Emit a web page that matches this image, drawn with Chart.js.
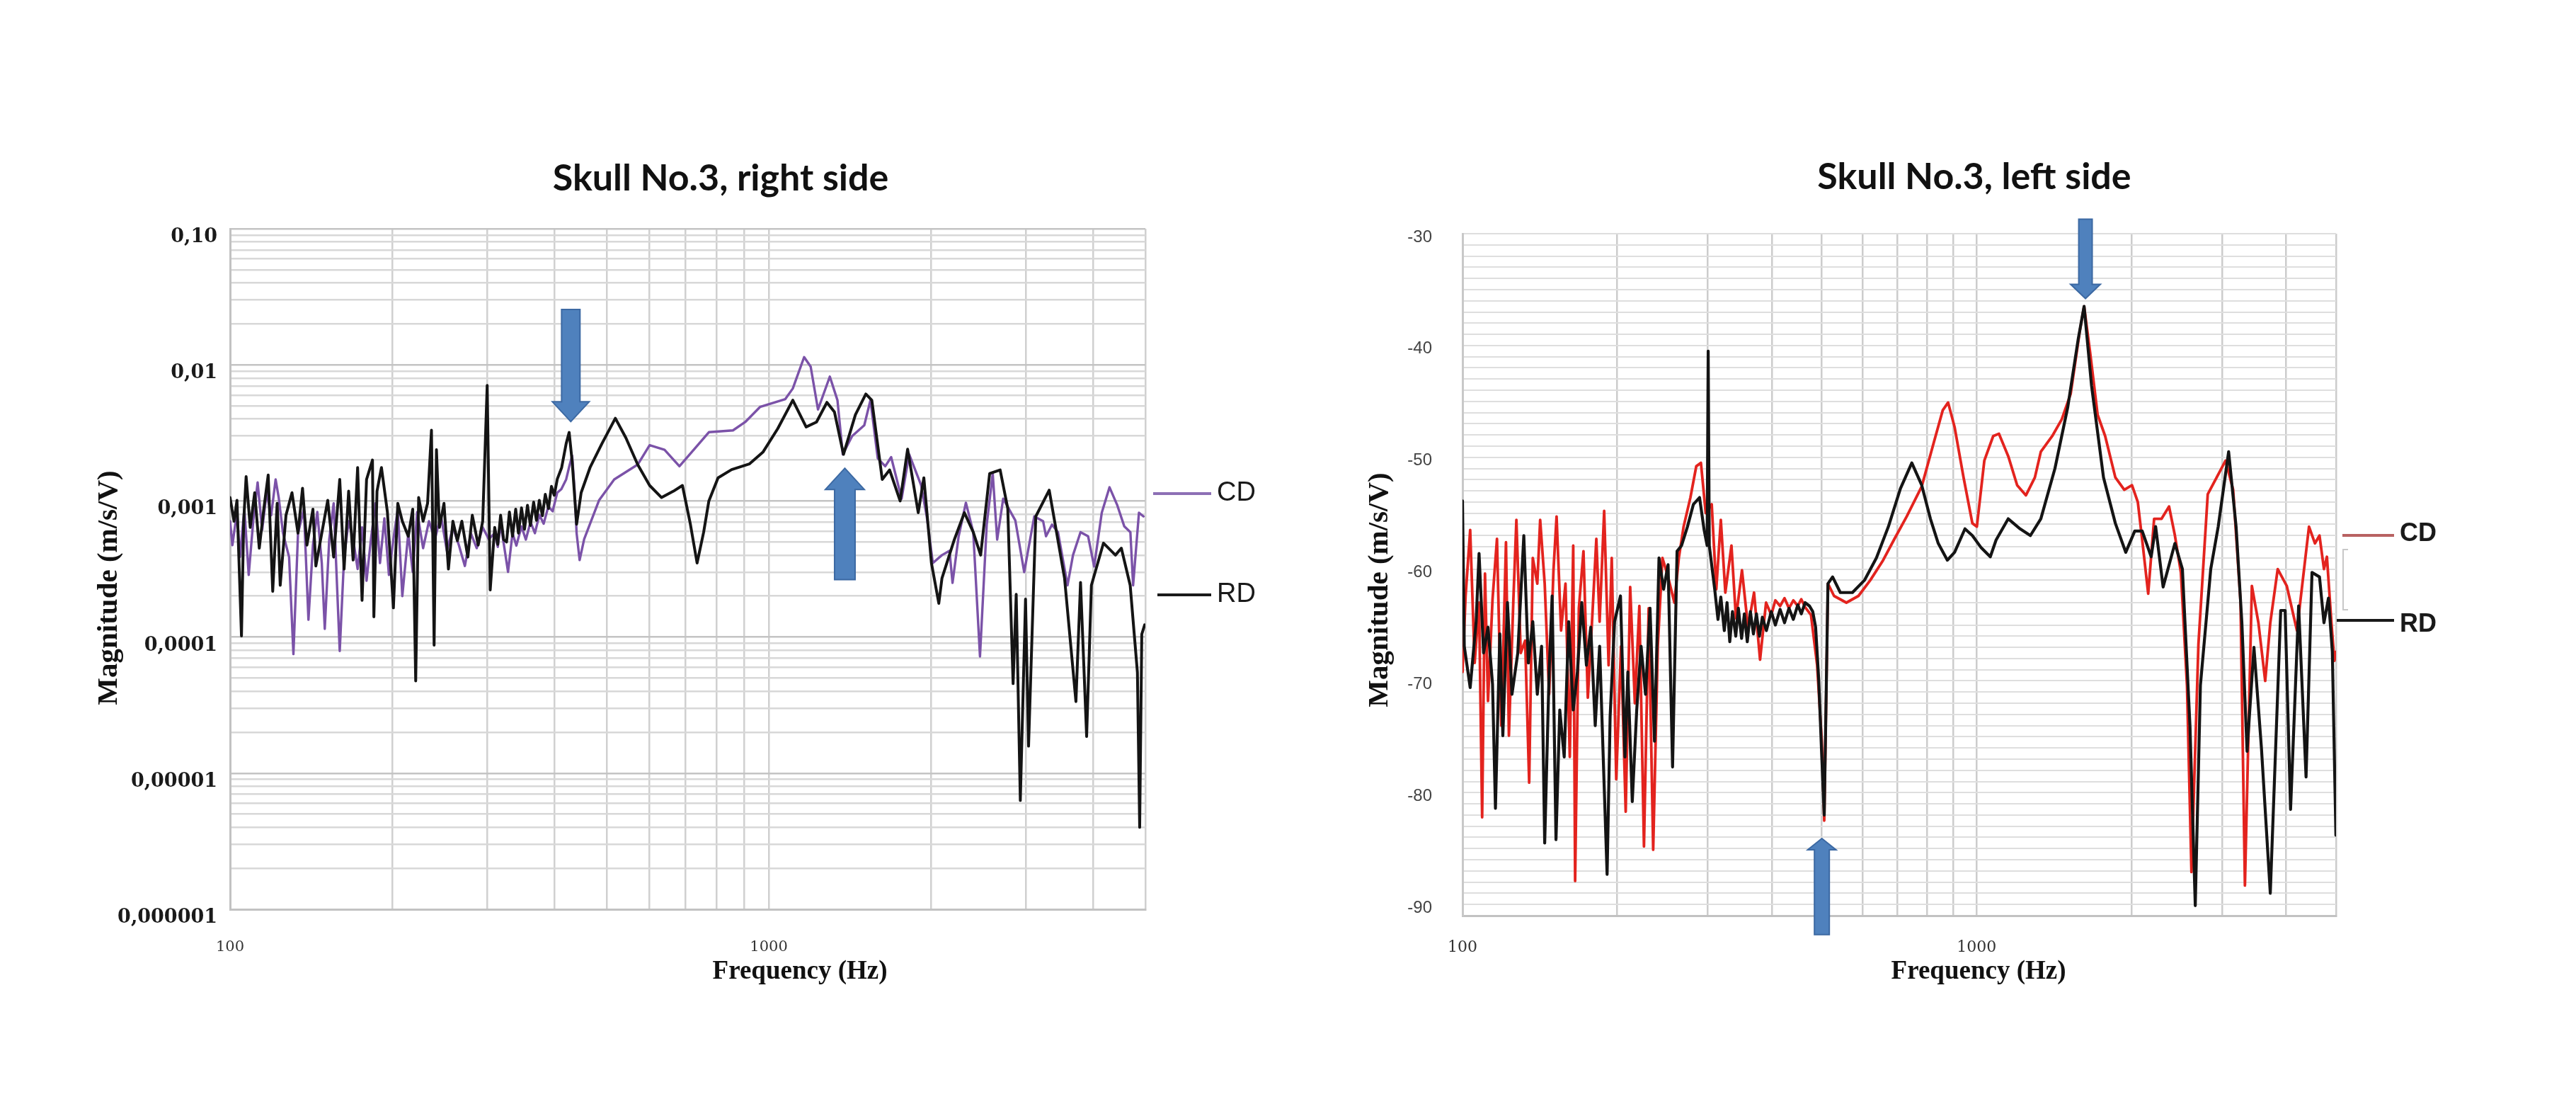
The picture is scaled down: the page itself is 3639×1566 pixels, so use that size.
<!DOCTYPE html>
<html lang="en">
<head>
<meta charset="UTF-8">
<title>Skull No.3 - frequency response, right and left side</title>
<script src="https://cdn.jsdelivr.net/npm/chart.js@4.4.1/dist/chart.umd.min.js"></script>
<style>
    html, body { margin: 0; padding: 0; background: #fff; }
    .panel { position: absolute; top: 0; }
    #rightSideChart { left: 0; }
    #leftSideChart { left: 1820px; }
</style>
</head>
<body>
<canvas id="rightSideChart" class="panel" width="1820" height="1566"></canvas>
<canvas id="leftSideChart" class="panel" width="1819" height="1566"></canvas>
<script>
// ---- axis ticks ----
const freqGrid = [100, 200, 300, 400, 500, 600, 700, 800, 900, 1000, 2000, 3000, 4000, 5000];
const freqLabelValues = [100, 1000];
const freqLabelTexts = ['100', '1000'];
const magnitudeDecades = [0.000001, 0.00001, 0.0001, 0.001, 0.01, 0.1];
const magnitudeLabels = ['0,000001', '0,00001', '0,0001', '0,001', '0,01', '0,10'];
const dbLabelValues = [-90, -80, -70, -60, -50, -40, -30];

// ---- Skull No.3, right side: [frequency Hz, magnitude m/s/V] ----
const rightSideRD = [[100,0.00106],[101.7,0.00071],[103,0.00101],[105,0.000102],[106,0.00071],[107.1,0.00151],[109,0.00064],[111.1,0.00115],[113.3,0.00045],[115.5,0.00087],[117.7,0.00155],[120,0.000217],[122.3,0.00096],[123.9,0.00024],[127,0.000785],[130.3,0.00115],[133.7,0.00058],[136.3,0.00124],[138.9,0.000474],[142.5,0.00087],[144.3,0.000333],[148,0.00058],[151.8,0.00101],[155.7,0.000387],[159.8,0.00144],[162.8,0.000316],[166,0.00118],[169.2,0.000368],[172.5,0.00176],[175.8,0.000186],[179.2,0.00144],[183.8,0.002],[184.9,0.000141],[187.4,0.00118],[191,0.00176],[195.9,0.00083],[201,0.000164],[204.8,0.00096],[208.8,0.00071],[214.2,0.00055],[218.3,0.00087],[221.1,0.0000476],[223.9,0.00106],[228.2,0.00071],[232.6,0.00096],[236.5,0.00331],[239.2,0.0000872],[241.6,0.00238],[244.7,0.00064],[249.5,0.00096],[254.3,0.000316],[259.2,0.00071],[264.2,0.000511],[269.3,0.00071],[276.3,0.000387],[281.6,0.000785],[288.8,0.000474],[294.4,0.00071],[300.1,0.00706],[304,0.000222],[309.9,0.00064],[314,0.00048],[317.8,0.000785],[322,0.00052],[326,0.0005],[330,0.00083],[334.4,0.00055],[339,0.00087],[343,0.00058],[347.5,0.00089],[352,0.00062],[356.5,0.00093],[361,0.00066],[366,0.00098],[370.4,0.00072],[375,0.00101],[380,0.00078],[384.7,0.00112],[390,0.00088],[395,0.00128],[399.7,0.0011],[405,0.00145],[412.6,0.00176],[420.6,0.00264],[426,0.00319],[431.5,0.00195],[439.8,0.000675],[448.4,0.00115],[465.8,0.00176],[490.1,0.00264],[519,0.00405],[542.7,0.00292],[571,0.00185],[600.9,0.0013],[632.3,0.00106],[665.3,0.00118],[691.3,0.0013],[715,0.00068],[736,0.00035],[757,0.00059],[774,0.001],[805,0.00148],[853,0.0017],[920,0.00187],[975,0.00228],[1039,0.0034],[1108,0.0055],[1173,0.0035],[1226,0.0038],[1282,0.0053],[1324,0.0045],[1376,0.0022],[1448,0.0043],[1514,0.0061],[1553,0.0055],[1624,0.00144],[1676,0.00169],[1753,0.001],[1810,0.0024],[1894,0.00082],[1940,0.00148],[2004,0.00035],[2068,0.000177],[2096,0.00027],[2210,0.00052],[2307,0.00082],[2396,0.00059],[2473,0.0004],[2570,0.00159],[2688,0.00169],[2777,0.00088],[2841,0.0000455],[2879,0.000206],[2930,0.0000063],[2996,0.00019],[3035,0.0000158],[3130,0.00077],[3315,0.0012],[3540,0.00027],[3716,0.0000336],[3790,0.000252],[3890,0.0000186],[3970,0.00024],[4180,0.00049],[4400,0.0004],[4512,0.00045],[4686,0.00024],[4833,0.000055],[4880,0.000004],[4924,0.000105],[4985,0.000123]];

const rightSideCD = [[100,0.00071],[101,0.000474],[103,0.00083],[104.3,0.000387],[106.3,0.00087],[108.3,0.000286],[110.4,0.00071],[112.5,0.00137],[114.7,0.000612],[116.9,0.00115],[119.2,0.000785],[121.5,0.00144],[123.1,0.00106],[125.4,0.00058],[128.7,0.000387],[131.1,0.000075],[133.7,0.00058],[137.1,0.00087],[139.8,0.000134],[142.5,0.000474],[145.2,0.00083],[148,0.00035],[149.9,0.000115],[152.8,0.000524],[155.7,0.00096],[159.8,0.000079],[162.8,0.000387],[166,0.00071],[169.2,0.000524],[172.5,0.000316],[175.8,0.00064],[179.2,0.000259],[182.6,0.000524],[186.2,0.00096],[189.8,0.00035],[193.4,0.000746],[197.2,0.000286],[201,0.000524],[204.8,0.00087],[208.8,0.0002],[214.2,0.00058],[218.3,0.000301],[222.5,0.00083],[228.2,0.00045],[234,0.00071],[240,0.000524],[246.2,0.000785],[252.6,0.00043],[259.2,0.00064],[265.9,0.000474],[272.8,0.000333],[279.8,0.00058],[287,0.00045],[294.4,0.00064],[302.1,0.000524],[309.9,0.00058],[314,0.00046],[317.8,0.00068],[322,0.00049],[328.1,0.000301],[334.4,0.00058],[340,0.00047],[347.5,0.00065],[354,0.00052],[361.2,0.0007],[368,0.00058],[375.1,0.00079],[382,0.00068],[389.7,0.00091],[397,0.00084],[404.8,0.00115],[412,0.00122],[420.6,0.00144],[426,0.00178],[431.5,0.00215],[436,0.0012],[439.8,0.00058],[445.5,0.000368],[454.2,0.000524],[484,0.00101],[516.5,0.00144],[571,0.00185],[600.9,0.00257],[640.4,0.00238],[682.5,0.0018],[725.5,0.00238],[774,0.0032],[858,0.0033],[904,0.0038],[963,0.0049],[1073,0.0056],[1108,0.0067],[1163,0.0114],[1196,0.0097],[1234,0.0047],[1298,0.0082],[1341,0.0055],[1372,0.0022],[1428,0.003],[1504,0.0036],[1544,0.0055],[1593,0.00206],[1645,0.0018],[1687,0.0021],[1764,0.00104],[1822,0.0022],[1917,0.00131],[1964,0.00077],[2016,0.00035],[2096,0.0004],[2165,0.00043],[2193,0.00025],[2251,0.00055],[2322,0.00097],[2396,0.00059],[2466,0.000072],[2538,0.00067],[2604,0.00159],[2654,0.00052],[2723,0.00104],[2868,0.00072],[2979,0.0003],[3110,0.00077],[3230,0.00071],[3270,0.00055],[3355,0.00067],[3442,0.00059],[3585,0.00024],[3670,0.0004],[3790,0.00059],[3915,0.00055],[4017,0.00033],[4150,0.00082],[4290,0.00126],[4430,0.00094],[4570,0.00065],[4690,0.00059],[4745,0.00024],[4865,0.00082],[4960,0.00077]];

// ---- Skull No.3, left side: [frequency Hz, magnitude dB] ----
const leftSideRD = [[100,-53.9],[100.8,-66.9],[103.5,-70.6],[106.3,-64.7],[107.7,-58.6],[109.9,-67.5],[112.1,-65.2],[114.4,-70.3],[115.9,-81.4],[118.2,-65.8],[119.8,-74.9],[122.3,-63],[124.8,-71.2],[128.1,-67.5],[131.6,-57],[134.3,-68.4],[137,-64.7],[139.8,-71.2],[142.5,-66.9],[144.5,-84.5],[147.4,-69.2],[149.4,-62.4],[152,-84.2],[154.6,-72.6],[157.7,-76.8],[160.9,-64.7],[164.2,-72.6],[167.3,-69.2],[170.6,-63],[174.2,-68.6],[177.6,-65.2],[181.2,-74],[184.8,-66.9],[188.6,-79.4],[191.1,-87.3],[193.7,-73.2],[197.6,-64.7],[202.9,-62.4],[207,-76.8],[209.7,-69.2],[213.9,-80.8],[218.2,-72.6],[222.5,-66.9],[227,-71.2],[231.6,-63.5],[236.3,-75.4],[241.1,-59],[246.1,-61.8],[251.1,-59.6],[256.2,-77.7],[261.4,-58.4],[266.7,-57.9],[273.9,-56.2],[281.3,-54.2],[289.1,-53.6],[295.1,-56.5],[299.1,-57.9],[300.5,-40.5],[302,-57.9],[309.4,-61.8],[314,-64.5],[318,-62.5],[323,-65.5],[327,-63],[331,-66.5],[335,-63.8],[340,-66],[344,-63.5],[349,-66.2],[353.4,-64],[358,-66.5],[363,-63.8],[368,-65.8],[373,-64],[378,-66],[383,-64.3],[390,-65.5],[398.6,-63.8],[406,-65],[414.7,-63.6],[423,-64.8],[431.5,-63.5],[440,-64.5],[448.9,-63.2],[456,-64],[463.8,-63],[473.1,-63.3],[480,-63.8],[486.2,-65.2],[492.9,-69.8],[499.8,-76.8],[505.3,-82],[513.8,-61.3],[524.6,-60.7],[543.1,-62.1],[573.3,-62.1],[605,-61],[638.4,-59],[673.6,-56.2],[710.8,-52.8],[748,-50.5],[782,-52.5],[813,-55.5],[842,-57.7],[877,-59.2],[906,-58.5],[949,-56.4],[981,-57],[1021,-58.1],[1063,-58.9],[1091,-57.4],[1152,-55.5],[1215,-56.4],[1272,-57],[1333,-55.5],[1420,-51],[1504,-45.5],[1575,-39.5],[1618,-36.5],[1673,-43.6],[1765,-51.8],[1861,-55.9],[1950,-58.5],[2030,-56.6],[2099,-56.6],[2185,-58.9],[2229,-56.2],[2305,-61.6],[2430,-57.7],[2513,-60],[2600,-74.1],[2662,-90.1],[2724,-70.4],[2853,-60],[2950,-56.2],[3091,-49.5],[3196,-56.2],[3280,-64.8],[3357,-76.3],[3462,-67],[3580,-76],[3725,-89],[3903,-63.7],[3981,-63.7],[4079,-81.5],[4229,-63.3],[4372,-78.6],[4490,-60.3],[4643,-60.7],[4737,-64.8],[4833,-62.6],[4918,-67.4],[4997,-83.8]];

const leftSideCD = [[100,-69.2],[101.4,-62.4],[103.5,-56.5],[105.6,-68.4],[107.7,-63],[109.2,-82.2],[110.6,-60.4],[112.1,-71.8],[114.4,-62.7],[116.7,-57.3],[119,-74],[121.5,-57.6],[123.1,-74.9],[125.6,-62.7],[127.3,-55.6],[129.8,-67.5],[132.4,-66.4],[134.8,-79.1],[137,-59],[139.8,-61.3],[141.6,-55.6],[144.5,-61.3],[147.4,-71.2],[150.3,-60.1],[152.4,-55.3],[155.5,-65.5],[158.6,-61.3],[161.7,-76.8],[164.2,-57.9],[165.6,-87.9],[168.4,-63.5],[171.9,-58.4],[175.3,-71.5],[178.9,-64.1],[182.1,-57.3],[184.8,-64.7],[188.6,-54.8],[192.4,-68.6],[195.1,-59],[199.1,-78.8],[203.4,-66.9],[207.7,-81.7],[211.9,-61.6],[216.4,-72],[220.8,-63.3],[225.4,-84.8],[230.2,-63.5],[234.9,-85.1],[239.8,-66.9],[244.8,-59],[251.1,-60.7],[258.3,-63],[263.5,-59],[269.2,-56.2],[277.5,-53.6],[284.9,-50.8],[290.9,-50.5],[297.2,-55],[305.3,-54.2],[311.6,-61.8],[318,-55.6],[324.5,-62.1],[333.5,-57.9],[340.3,-64.4],[349.6,-60.1],[359.2,-65.2],[369,-62.1],[379.1,-68.1],[389.4,-63],[398.6,-64.1],[406,-62.8],[414.7,-63.3],[423,-62.6],[431.5,-63.5],[440,-62.8],[448.9,-63.3],[456,-62.7],[463.8,-63.4],[476.2,-64.1],[489.5,-68.6],[499.8,-75.4],[505.3,-82.5],[513.8,-61.3],[528,-62.4],[558,-63],[589,-62.4],[621,-61],[656,-59.3],[692,-57.3],[731,-55.3],[782,-52.6],[824,-48.8],[859,-45.8],[880,-45.1],[906,-47.3],[943,-51.8],[981,-55.9],[1001,-56.2],[1035,-50.3],[1077,-48.1],[1105,-47.9],[1152,-49.9],[1199,-52.5],[1247,-53.4],[1298,-51.8],[1333,-49.5],[1403,-48.1],[1464,-46.6],[1524,-44.3],[1586,-38.8],[1618,-36.5],[1662,-40.6],[1719,-46.2],[1778,-48.1],[1861,-51.8],[1937,-52.9],[2005,-52.5],[2058,-54],[2099,-57.4],[2156,-62.2],[2214,-55.5],[2289,-55.5],[2367,-54.4],[2430,-57],[2496,-60.3],[2565,-70.4],[2617,-87.1],[2700,-66.7],[2815,-53.3],[2930,-51.8],[3049,-50.3],[3154,-52.9],[3260,-62.9],[3325,-88.3],[3430,-61.5],[3532,-64.8],[3641,-70],[3725,-64.8],[3851,-60],[4010,-61.5],[4197,-65.5],[4430,-56.2],[4550,-57.7],[4643,-57],[4737,-60],[4800,-58.9],[4898,-64.8],[4964,-68.2],[5000,-67.4]];

// blue arrows, in data units: frequency, tip value, tail value
const rightSideArrows = [
    { freq: 429, tip: 0.00383, tail: 0.0255, shaft: 26, head: 52, headLen: 28 },
    { freq: 1384, tip: 0.00174, tail: 0.000264, shaft: 29, head: 55, headLen: 30 }
];
const leftSideArrows = [
    { freq: 1628, tip: -35.8, tail: -28.7, shaft: 19, head: 42, headLen: 20 },
    { freq: 500, tip: -84.1, tail: -92.7, shaft: 21, head: 40, headLen: 16 }
];

const toPoints = pairs => pairs.map(p => ({ x: p[0], y: p[1] }));

function drawArrow(ctx, x, yTip, yTail, shaftW, headW, headLen) {
    const dir = yTail < yTip ? 1 : -1;
    const yBase = yTip - dir * headLen;
    ctx.beginPath();
    ctx.moveTo(x - shaftW / 2, yTail);
    ctx.lineTo(x + shaftW / 2, yTail);
    ctx.lineTo(x + shaftW / 2, yBase);
    ctx.lineTo(x + headW / 2, yBase);
    ctx.lineTo(x, yTip);
    ctx.lineTo(x - headW / 2, yBase);
    ctx.lineTo(x - shaftW / 2, yBase);
    ctx.closePath();
    ctx.fillStyle = '#4f81bd';
    ctx.fill();
    ctx.strokeStyle = '#3c69a3';
    ctx.lineWidth = 2;
    ctx.stroke();
}

// titles, axis titles, hand-placed legend and arrows
const decorPlugin = {
    id: 'decor',
    afterDraw(chart, args, o) {
        const ctx = chart.ctx;
        const xs = chart.scales.x, ys = chart.scales.y;
        ctx.save();
        o.arrows.forEach(a => drawArrow(ctx, xs.getPixelForValue(a.freq),
            ys.getPixelForValue(a.tip), ys.getPixelForValue(a.tail), a.shaft, a.head, a.headLen));

        ctx.textAlign = 'center';
        ctx.textBaseline = 'middle';
        ctx.fillStyle = '#111';
        ctx.font = 'bold 52px Lato';
        ctx.fillText(o.title, o.titleX, o.titleY);

        ctx.font = 'bold 37px "Liberation Serif"';
        ctx.fillText('Frequency (Hz)', o.xTitleX, o.xTitleY);

        ctx.save();
        ctx.translate(o.yTitleX, o.yTitleY);
        ctx.rotate(-Math.PI / 2);
        ctx.font = 'bold 41px "Liberation Serif"';
        ctx.fillText('Magnitude (m/s/V)', 0, 0);
        ctx.restore();

        ctx.textAlign = 'left';
        o.legend.forEach(l => {
            ctx.strokeStyle = l.color;
            ctx.lineWidth = 4;
            ctx.beginPath();
            ctx.moveTo(l.x1, l.y);
            ctx.lineTo(l.x2, l.y);
            ctx.stroke();
            ctx.fillStyle = '#1a1a1a';
            ctx.font = o.legendFont;
            ctx.fillText(l.text, l.x2 + 8, l.y + (l.dy || 0));
        });
        if (o.bracket) {
            const b = o.bracket;
            ctx.strokeStyle = '#c8c8c8';
            ctx.lineWidth = 2;
            ctx.beginPath();
            ctx.moveTo(b.x + 7, b.y1);
            ctx.lineTo(b.x, b.y1);
            ctx.lineTo(b.x, b.y2);
            ctx.lineTo(b.x + 7, b.y2);
            ctx.stroke();
        }
        ctx.restore();
    }
};

function lineSet(pairs, color, width) {
    return {
        data: toPoints(pairs),
        borderColor: color,
        borderWidth: width,
        pointRadius: 0,
        fill: false,
        tension: 0,
        borderJoinStyle: 'round',
        borderCapStyle: 'round'
    };
}

function freqAxis(pad, size, gridColor) {
    return {
        type: 'logarithmic',
        min: 100,
        max: 5000,
        afterBuildTicks: s => { s.ticks = freqGrid.map(v => ({ value: v })); },
        afterFit: s => { s.height = 100; s.paddingLeft = 0; s.paddingRight = 0; },
        ticks: {
            autoSkip: false,
            maxRotation: 0,
            padding: pad,
            color: '#333',
            font: { family: 'DejaVu Serif', size: size },
            callback: v => {
                const i = freqLabelValues.indexOf(v);
                return i >= 0 ? freqLabelTexts[i] : '';
            }
        },
        grid: { color: gridColor, lineWidth: 2.5, drawTicks: false },
        border: { color: '#c2c2c2', width: 3 }
    };
}

// left panel: Skull No.3, right side (log magnitude)
new Chart(document.getElementById('rightSideChart'), {
    type: 'line',
    data: {
        datasets: [
            lineSet(rightSideRD, '#141414', 4),
            lineSet(rightSideCD, '#7b52a8', 3.4)
        ]
    },
    options: {
        responsive: false,
        animation: false,
        devicePixelRatio: 1,
        layout: { padding: { left: 125, right: 202, top: 323, bottom: 182 } },
        plugins: {
            legend: { display: false },
            tooltip: { enabled: false },
            decor: {
                title: 'Skull No.3, right side', titleX: 1018, titleY: 252,
                xTitleX: 1130, xTitleY: 1372, yTitleX: 154, yTitleY: 830,
                legendFont: '38px "Liberation Sans"',
                legend: [
                    { text: 'CD', color: '#8d6fb5', x1: 1629, x2: 1711, y: 697 },
                    { text: 'RD', color: '#1a1a1a', x1: 1635, x2: 1711, y: 840 }
                ],
                arrows: rightSideArrows
            }
        },
        scales: {
            x: freqAxis(41, 21, '#d0d0d0'),
            y: {
                type: 'logarithmic',
                min: 0.000001,
                max: 0.1,
                afterBuildTicks: s => {
                    const t = [];
                    magnitudeDecades.forEach(d => {
                        for (let k = 1; k <= 9; k++) {
                            if (k * d <= 0.1) t.push({ value: k * d });
                        }
                    });
                    s.ticks = t;
                },
                afterFit: s => { s.width = 200; s.paddingTop = 0; s.paddingBottom = 0; },
                ticks: {
                    autoSkip: false,
                    padding: 18,
                    labelOffset: 12,
                    color: '#1a1a1a',
                    font: { family: 'DejaVu Serif', size: 27, weight: 'bold' },
                    callback: v => {
                        const i = magnitudeDecades.indexOf(v);
                        return i >= 0 ? magnitudeLabels[i] : '';
                    }
                },
                grid: {
                    drawTicks: false,
                    lineWidth: 2.5,
                    color: c => magnitudeDecades.indexOf(c.tick.value) >= 0 ? '#c4c4c4' : '#d8d8d8'
                },
                border: { color: '#c2c2c2', width: 3 }
            }
        }
    },
    plugins: [decorPlugin]
});

// right panel: Skull No.3, left side (dB)
new Chart(document.getElementById('leftSideChart'), {
    type: 'line',
    data: {
        datasets: [
            lineSet(leftSideRD, '#141414', 4.2),
            lineSet(leftSideCD, '#e3231e', 3.8)
        ]
    },
    options: {
        responsive: false,
        animation: false,
        devicePixelRatio: 1,
        layout: { padding: { left: 46, right: 339, top: 330, bottom: 173 } },
        plugins: {
            legend: { display: false },
            tooltip: { enabled: false },
            decor: {
                title: 'Skull No.3, left side', titleX: 969, titleY: 250,
                xTitleX: 975, xTitleY: 1372, yTitleX: 129, yTitleY: 833,
                legendFont: 'bold 36px "Liberation Sans"',
                legend: [
                    { text: 'CD', color: '#b86262', x1: 1489, x2: 1562, y: 756, dy: -2 },
                    { text: 'RD', color: '#1a1a1a', x1: 1481, x2: 1562, y: 876, dy: 6 }
                ],
                bracket: { x: 1490, y1: 776, y2: 861 },
                arrows: leftSideArrows
            }
        },
        scales: {
            x: freqAxis(32, 22, '#cccccc'),
            y: {
                type: 'linear',
                min: -91,
                max: -30,
                afterBuildTicks: s => {
                    const t = [];
                    for (let v = -91; v <= -30; v++) t.push({ value: v });
                    s.ticks = t;
                },
                afterFit: s => { s.width = 200; s.paddingTop = 0; s.paddingBottom = 0; },
                ticks: {
                    autoSkip: false,
                    padding: 43,
                    labelOffset: 5,
                    color: '#444',
                    font: { family: 'Liberation Sans', size: 24 },
                    callback: v => dbLabelValues.indexOf(v) >= 0 ? String(v) : ''
                },
                grid: { drawTicks: false, lineWidth: 2, color: '#dedede' },
                border: { color: '#c8c8c8', width: 3 }
            }
        }
    },
    plugins: [decorPlugin]
});
</script>
</body>
</html>
